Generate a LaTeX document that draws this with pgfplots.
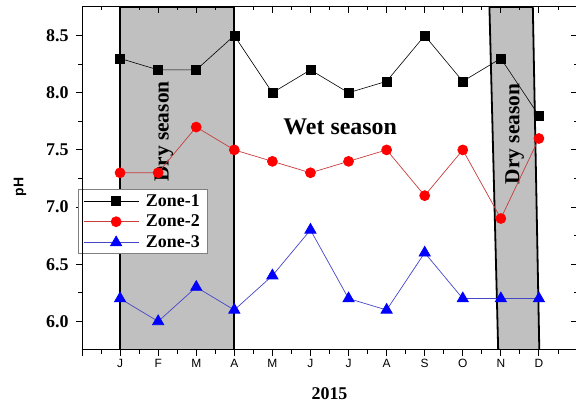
\documentclass[border=0pt]{standalone}
\usepackage{fontspec}
\setmainfont{Liberation Serif}
\setsansfont{Liberation Sans}
\usepackage{pgfplots}
\pgfplotsset{compat=1.18}
\definecolor{zonegray}{RGB}{192,192,192}
\definecolor{ztwoline}{RGB}{200,60,60}
\definecolor{zthreeline}{RGB}{70,70,200}
\begin{document}
\begin{tikzpicture}
\pgfplotsset{
  base/.style={
    at={(82bp,53bp)}, anchor=south west,
    scale only axis, width=495bp, height=343bp,
    xmin=0, xmax=13, ymin=5.75, ymax=8.75,
    xtick={0,1,2,3,4,5,6,7,8,9,10,11,12,13}, minor x tick num=1,
    ytick={6,6.5,7,7.5,8,8.5}, minor y tick num=1,
    major tick length=6bp, minor tick length=3.5bp,
    axis line style={line width=1bp},
    every tick/.style={black, line width=0.9bp},
  }
}
\pgfplotstableread{
m z1 z2 z3
1 8.3 7.3 6.2
2 8.2 7.3 6.0
3 8.2 7.7 6.3
4 8.5 7.5 6.1
5 8.0 7.4 6.4
6 8.2 7.3 6.8
7 8.0 7.4 6.2
8 8.1 7.5 6.1
9 8.5 7.1 6.6
10 8.1 7.5 6.2
11 8.3 6.9 6.2
12 7.8 7.6 6.2
}\datatable
\begin{axis}[base,
  xtick pos=left, ytick pos=left, tick align=outside,
  xticklabels={,J,F,M,A,M,J,J,A,S,O,N,D,},
  xticklabel style={font=\sffamily\fontsize{12}{12}\selectfont},
  yticklabel style={font=\bfseries\fontsize{18}{18}\selectfont, xshift=-4bp,
    /pgf/number format/fixed, /pgf/number format/fixed zerofill,
    /pgf/number format/precision=1},
  /pgf/number format/assume math mode=true,
  xlabel={2015},
  xlabel style={font=\bfseries\fontsize{18}{18}\selectfont, at={(axis description cs:0.5,-0.128)}, anchor=center},
  ylabel={pH},
  ylabel style={font=\sffamily\bfseries\fontsize{14}{14}\selectfont, at={(axis description cs:-0.125,0.475)}, anchor=center},
  legend style={at={(axis description cs:-0.008,0.468)}, anchor=north west,
    draw=gray, line width=0.5bp, fill=white,
    font=\bfseries\fontsize{18}{18}\selectfont,
    inner xsep=5bp, inner ysep=2.5bp, row sep=3.5bp, column sep=5bp},
  legend cell align=left,
  legend image code/.code={
    \path (0bp,0bp) -- (55bp,0bp);
    \draw[mark repeat=2,mark phase=2,#1] plot coordinates {(10bp,0bp)(32.5bp,0bp)(55bp,0bp)};
  },
]
\addplot[fill=zonegray, draw=black, line width=1.8bp, forget plot] coordinates {(1,5.75) (4,5.75) (4,8.75) (1,8.75)} -- cycle;
\addplot[fill=zonegray, draw=black, line width=1.8bp, forget plot] coordinates {(10.93,5.75) (12.01,5.75) (11.84,8.75) (10.70,8.75)} -- cycle;
\node[rotate=90, font=\bfseries\fontsize{21.5}{21.5}\selectfont] at (axis cs:2.15,7.66) {Dry season};
\node[rotate=90, font=\bfseries\fontsize{21.5}{21.5}\selectfont] at (axis cs:11.36,7.64) {Dry season};
\node[font=\bfseries\fontsize{24}{24}\selectfont] at (axis cs:6.78,7.70) {Wet season};
\addplot[black, line width=0.6bp, mark=square*, mark size=4.5bp, mark options={fill=black, draw=black}] table[x=m, y=z1] {\datatable};
\addlegendentry{Zone-1}
\addplot[ztwoline, line width=0.7bp, mark=*, mark size=5bp, mark options={fill=red, draw=red}] table[x=m, y=z2] {\datatable};
\addlegendentry{Zone-2}
\addplot[zthreeline, line width=0.7bp, mark=triangle*, mark size=6.5bp, mark options={fill=blue, draw=blue}] table[x=m, y=z3] {\datatable};
\addlegendentry{Zone-3}
\end{axis}
\begin{axis}[base,
  xtick pos=right, ytick pos=right, tick align=inside,
  xticklabels={}, yticklabels={},
]
\end{axis}
\pgfresetboundingbox
\path[use as bounding box] (0,0) rectangle (576bp,403bp);
\end{tikzpicture}
\end{document}
